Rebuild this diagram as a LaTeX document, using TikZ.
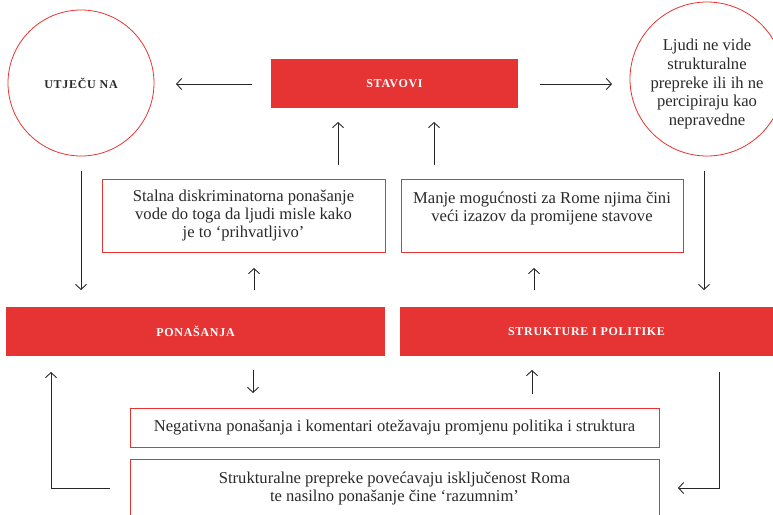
\documentclass[tikz,border=0pt]{standalone}
\usepackage{fontspec}
\setmainfont{Liberation Serif}
\newfontfamily\headfont[LetterSpace=6]{Liberation Serif Bold}
\usetikzlibrary{arrows.meta}
\definecolor{rred}{HTML}{E53433}
\definecolor{darktxt}{HTML}{2A2A2A}
\begin{document}
\begin{tikzpicture}[x=1pt,y=-1pt,
  hdr/.style={fill=rred, text=white, inner sep=0pt, font=\headfont\fontsize{12}{14}\selectfont},
  tbox/.style={draw=rred, line width=0.8pt, fill=white, inner sep=0pt, align=center, text=darktxt, font=\fontsize{16.6}{18}\selectfont},
  circ/.style={circle, draw=rred, line width=0.8pt, inner sep=0pt, align=center, text=darktxt},
  arr/.style={-{Straight Barb[length=5pt,width=11pt,line width=0.9pt]}, line width=0.9pt, draw=black!85}]
\useasboundingbox (0,0) rectangle (773,514);
\begin{scope}
\clip (0,0) rectangle (773,514);
% circles
\node[circ, minimum size=146pt, font=\headfont\fontsize{12}{14}\selectfont] (utj) at (81,83) {UTJEČU NA};
\node[circ, minimum size=154pt, font=\fontsize{16.6}{18.7}\selectfont] (ljudi) at (707,79) {\rule{0pt}{22pt}Ljudi ne vide\\strukturalne\\prepreke ili ih ne\\percipiraju kao\\nepravedne};
% heading bars
\node[hdr, minimum width=247pt, minimum height=49pt] (stav) at (394.5,83.5) {STAVOVI};
\node[hdr, minimum width=379pt, minimum height=49pt] (pon) at (195.5,331.5) {PONAŠANJA};
\node[hdr, minimum width=373pt, minimum height=49pt] (str) at (586.5,331.5) {STRUKTURE I POLITIKE};
% text boxes
\node[tbox, minimum width=283pt, minimum height=73pt] (b1) at (243.5,215.5) {Stalna diskriminatorna ponašanje\\vode do toga da ljudi misle kako\\je to ‘prihvatljivo’};
\node[tbox, minimum width=282pt, minimum height=73pt] (b2) at (542,215.5) {Manje mogućnosti za Rome njima čini\\veći izazov da promijene stavove\\\mbox{}};
\node[tbox, minimum width=529pt, minimum height=39pt] (neg) at (394.5,427.5) {Negativna ponašanja i komentari otežavaju promjenu politika i struktura};
\node[tbox, minimum width=529pt, minimum height=58pt] (bot) at (394.5,488) {Strukturalne prepreke povećavaju isključenost Roma\\te nasilno ponašanje čine ‘razumnim’};
\end{scope}
% arrow end points
\coordinate (a1s) at (252,84);  \coordinate (a1e) at (176,84);
\coordinate (a2s) at (540,84);  \coordinate (a2e) at (612,84);
\coordinate (a3s) at (338,165); \coordinate (a3e) at (338,122);
\coordinate (a4s) at (434,165); \coordinate (a4e) at (434,122);
\coordinate (a5s) at (81,171);  \coordinate (a5e) at (81,290);
\coordinate (a6s) at (704,171); \coordinate (a6e) at (704,290);
\coordinate (a7s) at (254,290); \coordinate (a7e) at (254,268);
\coordinate (a8s) at (534,290); \coordinate (a8e) at (534,268);
\coordinate (a9s) at (253,370); \coordinate (a9e) at (253,393);
\coordinate (a10s) at (532,394); \coordinate (a10e) at (532,370);
\coordinate (a11s) at (110,488); \coordinate (a11e) at (51,372);
\coordinate (a12s) at (719,372); \coordinate (a12e) at (678,488);
\draw[arr] (a1s) -- (a1e);
\draw[arr] (a2s) -- (a2e);
\draw[arr] (a3s) -- (a3e);
\draw[arr] (a4s) -- (a4e);
\draw[arr] (a5s) -- (a5e);
\draw[arr] (a6s) -- (a6e);
\draw[arr] (a7s) -- (a7e);
\draw[arr] (a8s) -- (a8e);
\draw[arr] (a9s) -- (a9e);
\draw[arr] (a10s) -- (a10e);
\draw[arr] (a11s) -| (a11e);
\draw[arr] (a12s) |- (a12e);
\end{tikzpicture}
\end{document}
